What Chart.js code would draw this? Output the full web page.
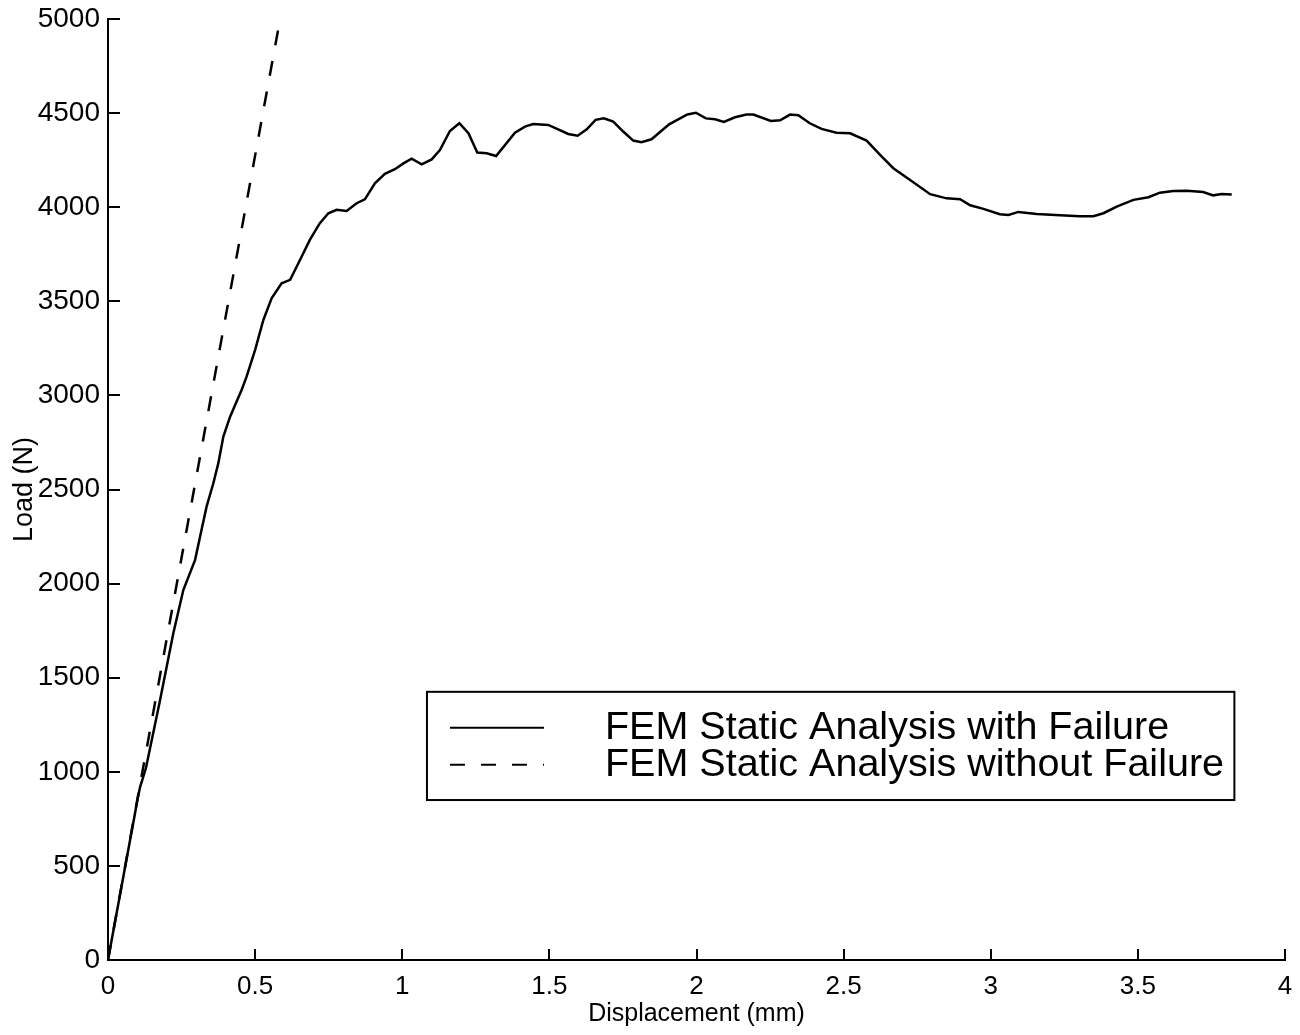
<!DOCTYPE html>
<html><head><meta charset="utf-8">
<script src="https://cdn.jsdelivr.net/npm/chart.js@4.4.0/dist/chart.umd.min.js"></script>
<style>html,body{margin:0;padding:0;background:#fff;}#wrap{width:1300px;height:1035px;}</style>
</head><body><div id="wrap"><canvas id="c" width="1300" height="1035"></canvas></div>
<script>
// ---- data ----
const withFailureX = [0,0.102,0.109,0.129,0.177,0.222,0.256,0.296,0.313,0.335,0.358,0.375,0.392,0.415,0.432,0.454,0.471,0.500,0.528,0.556,0.590,0.619,0.647,0.686,0.720,0.749,0.777,0.811,0.845,0.873,0.907,0.941,0.975,1.004,1.032,1.066,1.100,1.128,1.162,1.194,1.225,1.255,1.287,1.319,1.383,1.417,1.445,1.496,1.530,1.564,1.596,1.627,1.657,1.685,1.717,1.751,1.785,1.813,1.847,1.907,1.938,1.969,1.998,2.032,2.063,2.093,2.131,2.170,2.193,2.253,2.284,2.318,2.346,2.385,2.425,2.476,2.522,2.578,2.624,2.669,2.726,2.794,2.850,2.896,2.930,2.975,3.031,3.060,3.094,3.156,3.236,3.303,3.349,3.383,3.428,3.485,3.536,3.575,3.620,3.666,3.722,3.756,3.785,3.819];
const withFailureY = [0,866,919,1020,1382,1736,1966,2126,2250,2409,2533,2640,2781,2887,2949,3029,3100,3242,3401,3516,3596,3614,3702,3826,3915,3968,3986,3980,4021,4042,4127,4177,4202,4233,4258,4228,4254,4304,4405,4446,4393,4290,4287,4272,4396,4428,4442,4437,4414,4389,4380,4414,4464,4472,4455,4402,4354,4345,4361,4440,4467,4493,4502,4472,4467,4453,4478,4493,4492,4458,4462,4492,4489,4446,4416,4396,4393,4354,4278,4207,4145,4069,4047,4042,4010,3991,3963,3959,3975,3964,3957,3952,3952,3968,4003,4039,4053,4077,4086,4088,4081,4063,4070,4067];
const withoutFailureX = [0, 0.579];
const withoutFailureY = [0, 4950];
const xTickValues = [0,0.5,1,1.5,2,2.5,3,3.5,4];
const yTickValues = [0,500,1000,1500,2000,2500,3000,3500,4000,4500,5000];
const seriesLabels = ['FEM Static Analysis with Failure','FEM Static Analysis without Failure'];
const xTitle = 'Displacement (mm)';
const yTitle = 'Load (N)';

const FONT = "'Liberation Sans', Arial, Helvetica, sans-serif";
const toPts = (xs, ys) => xs.map((x,i)=>({x:x, y:ys[i]}));

const inwardTicks = {
  id:'inwardTicks',
  afterDatasetsDraw(chart){
    const {ctx, chartArea:a, scales:{x, y}} = chart;
    ctx.save();
    ctx.strokeStyle = '#000'; ctx.lineWidth = 2;
    ctx.beginPath();
    xTickValues.forEach(v=>{ const px = Math.round(x.getPixelForValue(v)); ctx.moveTo(px, a.bottom); ctx.lineTo(px, a.bottom-11); });
    yTickValues.forEach(v=>{ const py = Math.round(y.getPixelForValue(v)); ctx.moveTo(a.left, py); ctx.lineTo(a.left+12, py); });
    ctx.stroke();
    ctx.restore();
  }
};

const boxLegend = {
  id:'boxLegend',
  afterDraw(chart){
    const {ctx, chartArea:a} = chart;
    const w = a.right-a.left, h = a.bottom-a.top;
    const L = a.left + 0.271*w, R = a.left + 0.957*w;
    const T = a.top + 0.715*h, B = a.top + 0.830*h;
    ctx.save();
    ctx.fillStyle = '#fff';
    ctx.fillRect(L, T, R-L, B-T);
    ctx.strokeStyle = '#000'; ctx.lineWidth = 2;
    ctx.strokeRect(L, T, R-L, B-T);
    const rows = [T+36, T+73];
    chart.data.datasets.forEach((ds,i)=>{
      ctx.beginPath();
      ctx.setLineDash(ds.borderDash || []);
      ctx.lineWidth = 2;
      ctx.moveTo(L+23, rows[i]); ctx.lineTo(L+117, rows[i]);
      ctx.stroke();
      ctx.setLineDash([]);
      ctx.fillStyle = '#000';
      ctx.font = '39.5px ' + FONT;
      ctx.textBaseline = 'alphabetic';
      ctx.textAlign = 'left';
      ctx.fillText(ds.label, L+178, rows[i]+11);
    });
    ctx.restore();
  }
};

new Chart(document.getElementById('c'), {
  type:'line',
  data:{ datasets:[
    { label: seriesLabels[0], data: toPts(withFailureX, withFailureY), borderColor:'#000', borderWidth:2.5, pointRadius:0, tension:0, fill:false },
    { label: seriesLabels[1], data: toPts(withoutFailureX, withoutFailureY), borderColor:'#000', borderWidth:2.5, borderDash:[15,16], pointRadius:0, tension:0, fill:false }
  ]},
  options:{
    responsive:false, animation:false, devicePixelRatio:1,
    layout:{ padding:{ top:19, right:15, left:0, bottom:0 } },
    plugins:{ legend:{display:false}, tooltip:{enabled:false} },
    scales:{
      x:{ type:'linear', min:0, max:4,
        afterBuildTicks: s => { s.ticks = xTickValues.map(v=>({value:v})); },
        afterFit: s => { s.height = 75; s.paddingLeft = 0; s.paddingRight = 0; s.paddingTop = 0; s.paddingBottom = 0; },
        grid:{ display:false, drawTicks:false },
        border:{ display:true, color:'#000', width:2 },
        ticks:{ color:'#000', padding:11, font:{ family:FONT, size:26 }, maxRotation:0, autoSkip:false, callback: v => String(v) },
        title:{ display:true, text:xTitle, color:'#000', font:{ family:FONT, size:25 }, padding:{ top:0, bottom:6 } }
      },
      y:{ type:'linear', min:0, max:5000,
        afterBuildTicks: s => { s.ticks = yTickValues.map(v=>({value:v})); },
        afterFit: s => { s.width = 108; s.paddingLeft = 0; s.paddingRight = 0; s.paddingTop = 0; s.paddingBottom = 0; },
        grid:{ display:false, drawTicks:false },
        border:{ display:true, color:'#000', width:2 },
        ticks:{ color:'#000', padding:8, font:{ family:FONT, size:28 }, autoSkip:false, callback: v => String(v) },
        title:{ display:true, text:yTitle, color:'#000', font:{ family:FONT, size:27 }, padding:{ top:8, bottom:0 } }
      }
    }
  },
  plugins:[inwardTicks, boxLegend]
});
</script></body></html>
